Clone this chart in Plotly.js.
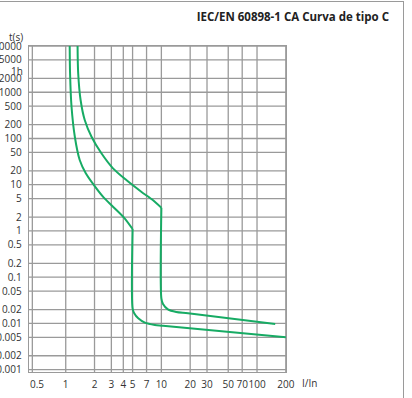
<!DOCTYPE html>
<html>
<head>
<meta charset="utf-8">
<script src="https://cdn.plot.ly/plotly-3.0.1.min.js"></script>
<style>
  html, body { margin: 0; padding: 0; background: #fff; }
  #wrap { position: relative; width: 412px; height: 398px; overflow: hidden; }
  #chart { width: 412px; height: 398px; }
  #frame { position: absolute; left: -2px; top: 1px; width: 405px; height: 410px;
           border-top: 1.5px solid #9a9a9a; border-right: 1.5px solid #9a9a9a; pointer-events: none; }
</style>
</head>
<body>
<div id="wrap"><div id="chart"></div><div id="frame"></div></div>
<script>
// ---- data ----
const xTickVals = [0.5, 1, 2, 3, 4, 5, 7, 10, 20, 30, 50, 70, 100, 200];
const xTickText = ['0.5', '1', '2', '3', '4', '5', '7', '10', '20', '30', '50', '70', '100', '200'];
const xGrid = [1, 2, 3, 4, 5, 7, 10, 20, 30, 50, 70, 100, 200];

const yTickVals = [0.001, 0.002, 0.005, 0.01, 0.02, 0.05, 0.1, 0.2, 0.5, 1, 2, 5, 10, 20, 50, 100, 200, 500, 1000, 2000, 5000, 10000];
const yTickText = ['0.001', '0.002', '0.005', '0.01', '0.02', '0.05', '0.1', '0.2', '0.5', '1', '2', '5', '10', '20', '50', '100', '200', '500', '1000', '2000', '5000', '10000'];
const yGrid = yTickVals;
const hourValue = 3600;
const hourLabel = '1h';

// lower boundary of the C-type curve: thermal part, then magnetic part
const lowThermX = [1.10, 1.11, 1.15, 1.245, 1.40, 1.62, 1.93, 2.45, 3.12, 4.13, 5];
const lowThermY = [10000, 2570, 486, 109, 34.3, 17.7, 10.4, 5.51, 3.35, 1.88, 1.1];
const lowMagX = [5, 5, 5.2, 5.73, 6.73, 8.55, 10.4, 200];
const lowMagY = [1.1, 0.0212, 0.0166, 0.0129, 0.0104, 0.00925, 0.0089, 0.005];
// upper boundary of the C-type curve
const highThermX = [1.33, 1.35, 1.43, 1.58, 1.86, 2.36, 3.12, 4.30, 6.16, 8.13, 10];
const highThermY = [10000, 2570, 679, 251, 109, 47.8, 22.6, 12.6, 7.06, 4.67, 3.18];
const highMagX = [10, 10, 10.4, 11.7, 14.3, 19, 155];
const highMagY = [3.18, 0.035, 0.0263, 0.0202, 0.0177, 0.0166, 0.0097];

const titleText = 'IEC/EN 60898-1 CA Curva de tipo C';
const yLabel = 't(s)';
const xLabel = 'I/In';

// ---- styles ----
const green = '#17ab64';
const gridColor = '#9a9a9a';
const textColor = '#333333';
const fontFam = '"Open Sans", "Noto Sans", sans-serif';

function curve(x, y) {
  return { x: x, y: y, type: 'scatter', mode: 'lines',
           line: { color: green, width: 2, shape: 'spline', smoothing: 0.8 }, hoverinfo: 'skip' };
}
const traces = [
  curve(lowThermX, lowThermY), curve(lowMagX, lowMagY),
  curve(highThermX, highThermY), curve(highMagX, highMagY)
];

const shapes = [];
xGrid.forEach(v => shapes.push({ type: 'line', layer: 'below', xref: 'x', yref: 'paper',
  x0: v, x1: v, y0: 0, y1: 1, line: { color: gridColor, width: 1.3 } }));
yGrid.forEach(v => shapes.push({ type: 'line', layer: 'below', xref: 'paper', yref: 'y',
  x0: 0, x1: 1, y0: v, y1: v, line: { color: gridColor, width: 1.3 } }));
// double inner line on the left edge of the frame
shapes.push({ type: 'line', layer: 'below', xref: 'paper', yref: 'paper', x0: 0.013, x1: 0.013, y0: 0, y1: 1,
  line: { color: gridColor, width: 1.3 } });

const layout = {
  width: 412, height: 398,
  margin: { l: 29, r: 126, t: 46, b: 26 },
  paper_bgcolor: '#ffffff', plot_bgcolor: '#ffffff',
  showlegend: false,
  font: { family: fontFam, size: 10, color: textColor },
  title: { text: '<b>' + titleText + '</b>', font: { family: fontFam, size: 11.5, color: '#222' },
           x: 389 / 412, xanchor: 'right', xref: 'container', y: 1 - 17 / 398, yanchor: 'middle', yref: 'container' },
  xaxis: {
    type: 'log', range: [-0.384, 2.303], tickmode: 'array', tickvals: xTickVals, ticktext: xTickText,
    showgrid: false, zeroline: false, showline: true, mirror: true, linecolor: gridColor, linewidth: 1.3,
    ticks: '', tickangle: 0, ticklabelstandoff: 3, tickfont: { size: 10, color: textColor }, fixedrange: true
  },
  yaxis: {
    type: 'log', range: [-3.05, 4.0], tickmode: 'array', tickvals: yTickVals, ticktext: yTickText,
    showgrid: false, zeroline: false, showline: true, mirror: true, linecolor: gridColor, linewidth: 1.3,
    ticks: '', ticklabelstandoff: 4, tickfont: { size: 10, color: textColor }, fixedrange: true
  },
  shapes: shapes,
  annotations: [
    { text: hourLabel, xref: 'paper', x: 0, xanchor: 'right', xshift: -4, yref: 'y', y: Math.log10(hourValue),
      yanchor: 'middle', yshift: -4, showarrow: false, font: { size: 10, color: textColor } },
    { text: yLabel, xref: 'paper', x: 0, xanchor: 'right', xshift: -4, yref: 'paper', y: 1,
      yanchor: 'middle', yshift: 9.5, showarrow: false, font: { size: 10, color: textColor } },
    { text: xLabel, xref: 'paper', x: 1, xanchor: 'left', xshift: 14, yref: 'paper', y: 0,
      yanchor: 'middle', yshift: -11, showarrow: false, font: { size: 10, color: textColor } }
  ]
};

Plotly.newPlot('chart', traces, layout, { displayModeBar: false, staticPlot: true });
</script>
</body>
</html>
